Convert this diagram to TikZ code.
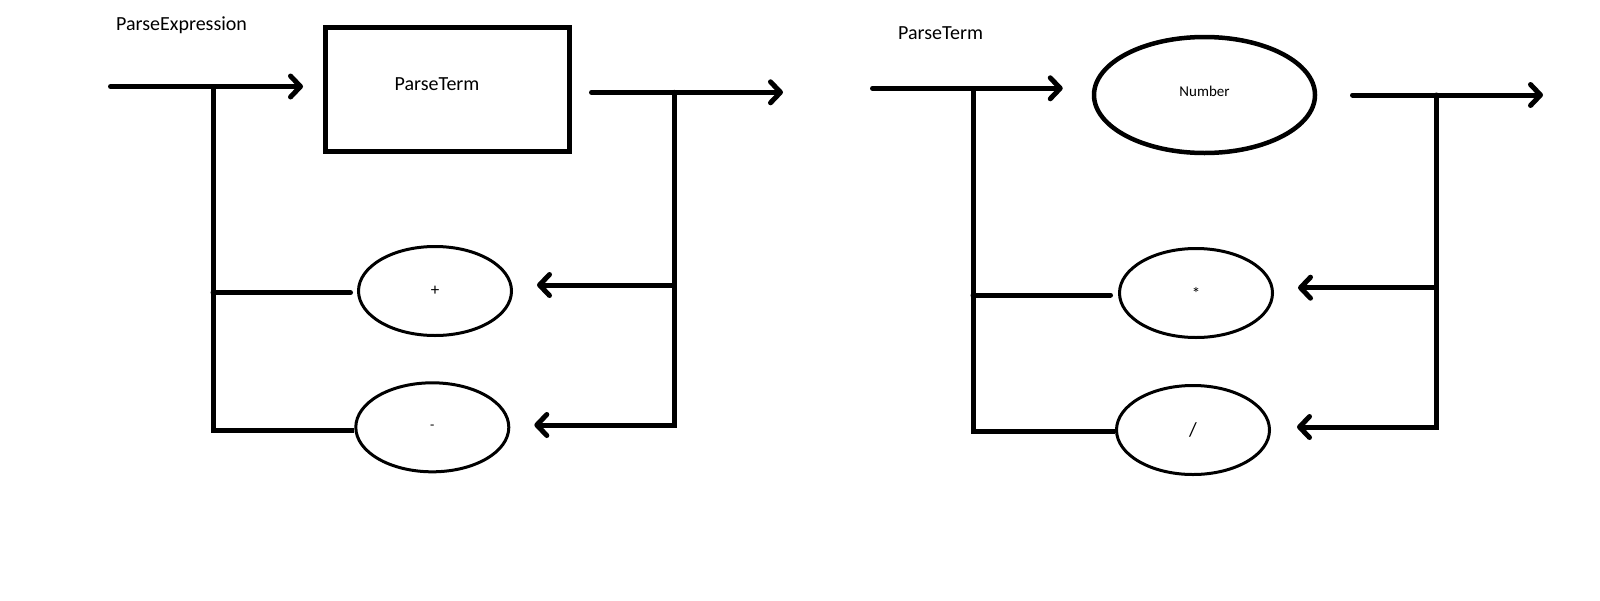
\documentclass[tikz,border=0pt]{standalone}
\usepackage{fontspec}
\setmainfont{Carlito}
\usetikzlibrary{arrows.meta,shapes.geometric}
\begin{document}
\begin{tikzpicture}[x=1pt,y=-1pt,
  wire/.style={line width=5pt, line cap=round},
  arr/.style={wire, -{Straight Barb[length=10pt,width=21pt,round]}},
  op/.style={ellipse, draw, line width=3pt, minimum width=153pt, minimum height=89pt, inner sep=0pt, font=\fontsize{17}{20}\selectfont},
  lbl/.style={inner sep=0pt, font=\fontsize{20}{24}\selectfont}]
\useasboundingbox[fill=white] (0,0) rectangle (1600,600);
% ---------------- left diagram: ParseExpression
\node[lbl, anchor=base west] (titleA) at (116,30) {ParseExpression};
\node[draw, line width=5pt, minimum width=244pt, minimum height=124pt, inner sep=0pt] (box) at (447.5,89.5) {};
\node[lbl, anchor=base] (boxT) at (437,90) {ParseTerm};
\node[op] (plus) at (435,291) {+};
\node[op, font=\fontsize{14}{16}\selectfont] (minus) at (432.3,427.3) {-};
\coordinate (inA) at (110.5,86.5);
\coordinate (jA) at (213,86.5);
\coordinate (midA) at (213,292.7);
\coordinate (botA) at (213,430);
\coordinate (outA) at (591.5,92.3);
\coordinate (jA2) at (674,92.3);
\coordinate (tipA) at (783,92.3);
\coordinate (rA1) at (674,285);
\coordinate (rA2) at (674,425);
\draw[arr] (inA) -- ([xshift=-20pt]inA -| box.west);
\draw[wire, line cap=butt] (jA) -- (botA) -- (botA -| minus.west);
\draw[wire] (midA) -- ([xshift=-6.5pt]midA -| plus.west);
\draw[arr] (outA) -- (tipA);
\draw[arr] (jA2) -- (rA2) -- ([xshift=24pt]rA2 -| minus.east);
\draw[arr] (rA1) -- ([xshift=24pt]rA1 -| plus.east);
% ---------------- right diagram: ParseTerm
\node[lbl, anchor=base west] (titleB) at (898,39.3) {ParseTerm};
\node[ellipse, draw, line width=4.5pt, minimum width=221pt, minimum height=116pt, inner sep=0pt, text depth=7pt, font=\fontsize{15}{18}\selectfont] (num) at (1204.5,95) {Number};
\node[op] (star) at (1196,293) {*};
\node[op, font=\fontsize{20}{24}\selectfont] (slash) at (1193,430) {/};
\coordinate (inB) at (872.5,88.3);
\coordinate (jB) at (973,88.3);
\coordinate (midB) at (973,295);
\coordinate (botB) at (973,431.7);
\coordinate (outB) at (1352.5,95);
\coordinate (jB2) at (1436,95);
\coordinate (tipB) at (1543,95);
\coordinate (rB1) at (1436,287.7);
\coordinate (rB2) at (1436,427);
\draw[arr] (inB) -- ([xshift=-29pt]inB -| num.west);
\draw[wire, line cap=butt] (jB) -- (botB) -- (botB -| slash.west);
\draw[wire] (midB) -- ([xshift=-7.5pt]midB -| star.west);
\draw[arr] (outB) -- (tipB);
\draw[arr] (jB2) -- (rB2) -- ([xshift=26pt]rB2 -| slash.east);
\draw[arr] (rB1) -- ([xshift=24pt]rB1 -| star.east);
\end{tikzpicture}
\end{document}
